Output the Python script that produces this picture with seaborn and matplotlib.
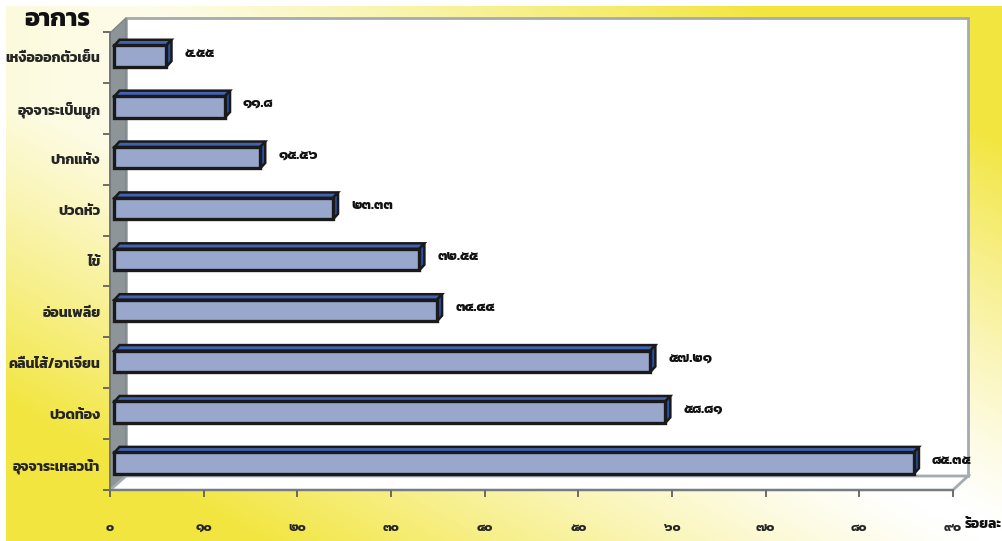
import numpy as np
import matplotlib
matplotlib.use("Agg")
import matplotlib.pyplot as plt
from matplotlib import font_manager, ft2font
from matplotlib.patches import Polygon
import seaborn as sns

# ---------------- data ----------------
categories = ["เหงื่อออกตัวเย็น", "อุจจาระเป็นมูก", "ปากแห้ง", "ปวดหัว", "ไข้",
              "อ่อนเพลีย", "คลื่นไส้/อาเจียน", "ปวดท้อง", "อุจจาระเหลวน้ำ"]
values = [5.55, 11.8, 15.56, 23.33, 32.55, 34.44, 57.21, 58.81, 85.35]
value_labels = ["๕.๕๕", "๑๑.๘", "๑๕.๕๖", "๒๓.๓๓", "๓๒.๕๕", "๓๔.๔๔", "๕๗.๒๑", "๕๘.๘๑", "๘๕.๓๕"]
x_ticks = [0, 10, 20, 30, 40, 50, 60, 70, 80, 90]
x_tick_labels = ["๐", "๑๐", "๒๐", "๓๐", "๔๐", "๕๐", "๖๐", "๗๐", "๘๐", "๙๐"]
y_title = "อาการ"
x_title = "ร้อยละ"

sns.set_theme(style="white")

# ---------------- font with Thai glyphs ----------------
thai_font = None
cands = []
for f in font_manager.fontManager.ttflist:
    try:
        cm = ft2font.FT2Font(f.fname).get_charmap()
        if 0x0E01 in cm and 0x0E50 in cm and 0x0E35 in cm:
            cands.append(f)
    except Exception:
        pass
if cands:
    def _w(f):
        w = f.weight
        if isinstance(w, str):
            return 700 if "bold" in w.lower() else 400
        return w
    cands.sort(key=lambda f: -_w(f))
    thai_font = cands[0].name
fam = [thai_font, "DejaVu Sans"] if thai_font else ["DejaVu Sans"]
plt.rcParams["font.family"] = fam

W, H = 1003, 541
fig = plt.figure(figsize=(W / 100, H / 100), dpi=100)


def fx(px):
    return px / W


def fy(py):
    return 1 - py / H


# ---------------- background gradient ----------------
bg = fig.add_axes([0, 0, 1, 1], zorder=-10)
yy, xx = np.mgrid[0:H, 0:W]
u = xx / W
v = yy / H
d = np.abs(u - v)
t = np.clip((d - 0.02) / 0.72, 0, 1) ** 1.2
t = np.maximum(t, 0.18 * np.clip(1 - u * 2.5, 0, 1))
white = np.array([1.0, 1.0, 1.0])
yellow = np.array([0.95, 0.90, 0.25])
img = white[None, None, :] * (1 - t[..., None]) + yellow[None, None, :] * t[..., None]
img[:6, :, :] = 1.0
img[:, :6, :] = 1.0
bg.imshow(img, aspect="auto", extent=[0, 1, 0, 1])
bg.set_axis_off()

# ---------------- 3D frame (wall / floor / panel) ----------------
def fpoly(pts, **kw):
    p = Polygon([(fx(a), fy(b)) for a, b in pts], closed=True,
                transform=fig.transFigure, **kw)
    fig.add_artist(p)
    return p

fpoly([(126, 18), (968, 18), (968, 476), (126, 476)], facecolor="white",
      edgecolor="#a3abb0", linewidth=2, zorder=-5)
fpoly([(110, 33), (126, 18), (126, 476), (110, 490)], facecolor="#8d9599",
      edgecolor="#7d8589", linewidth=1, zorder=-4)
fpoly([(110, 490), (126, 476), (968, 476), (953, 490)], facecolor="white",
      edgecolor="#a3abb0", linewidth=2, zorder=-4)

# ---------------- main axes ----------------
ax = fig.add_axes([fx(110), fy(490), (953 - 110) / W, (490 - 32) / H])
ax.patch.set_alpha(0)

sns.barplot(x=values, y=categories, orient="h", color="#91a3d4",
            edgecolor="#1a1a1a", linewidth=2.4, width=0.42, ax=ax, zorder=3)
ax.set_xlim(0, 90)
ax.set_ylim(8.5, -0.5)

xpp = 90 / (953 - 110)
ypp = 9 / (490 - 32)
off = 4.5 * xpp
dx = 5 * xpp
dy = 5.5 * ypp
for i, p in enumerate(ax.patches):
    p.set_x(p.get_x() + off)
    p.set_y(p.get_y() - 1.5 * ypp)
    x0 = p.get_x()
    x1 = x0 + p.get_width()
    yt = p.get_y()
    yb = yt + p.get_height()
    top = Polygon([(x0, yt), (x0 + dx, yt - dy), (x1 + dx, yt - dy), (x1, yt)],
                  closed=True, facecolor="#4262b3", edgecolor="#1a1a1a",
                  linewidth=1.8, zorder=2.9)
    side = Polygon([(x1, yt), (x1 + dx, yt - dy), (x1 + dx, yb - dy), (x1, yb)],
                   closed=True, facecolor="#2c50a6", edgecolor="#1a1a1a",
                   linewidth=1.8, zorder=2.9)
    ax.add_patch(top)
    ax.add_patch(side)
    ax.annotate(value_labels[i], xy=(x1, (yt + yb) / 2 - dy / 2), xytext=(13, 0),
                textcoords="offset points", ha="left", va="center",
                fontsize=10.5, fontweight="bold", color="#111111")

for s in ["top", "right"]:
    ax.spines[s].set_visible(False)
ax.spines["left"].set_color("#6d7377")
ax.spines["bottom"].set_color("#6d7377")
ax.spines["left"].set_linewidth(1.2)
ax.spines["bottom"].set_linewidth(1.2)

ax.set_xticks(x_ticks)
ax.set_xticklabels(x_tick_labels, fontsize=9.5, fontweight="bold")
ax.tick_params(axis="x", direction="out", length=5, width=1.2, color="#555555",
               pad=19, bottom=True)
ax.set_yticks(range(len(categories)))
ax.set_yticklabels(categories, fontsize=10.2, fontweight="bold")
ax.tick_params(axis="y", which="major", length=0, pad=7)
ax.set_yticks(np.arange(-0.5, 9, 1), minor=True)
ax.tick_params(axis="y", which="minor", direction="out", length=5, width=1.2,
               color="#555555", left=True)
ax.set_xlabel("")
ax.set_ylabel("")

fig.text(fx(57), fy(20), y_title, ha="center", va="center", fontsize=18,
         fontweight="bold", color="#111111")
fig.text(fx(965), fy(524), x_title, ha="left", va="center", fontsize=10,
         fontweight="bold", color="#111111")

fig.savefig("out.png", dpi=100)
